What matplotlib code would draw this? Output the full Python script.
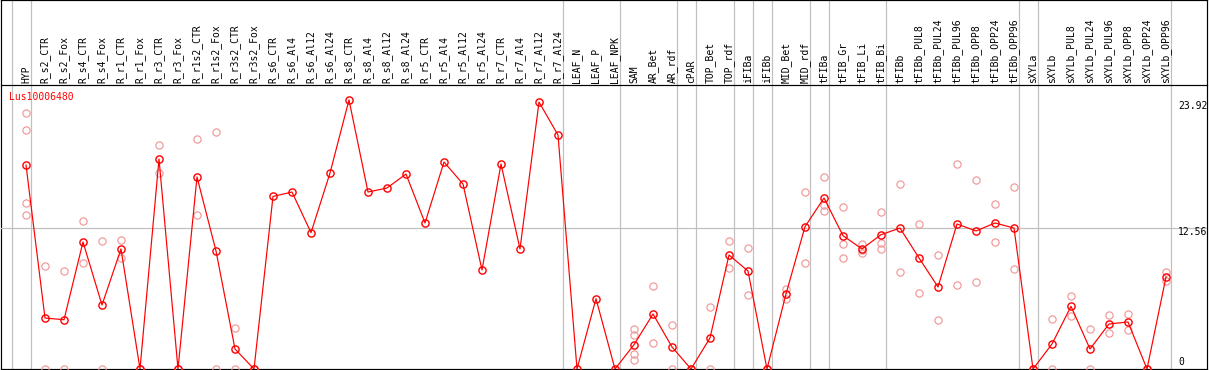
import matplotlib
matplotlib.use("Agg")
import matplotlib.pyplot as plt

gene = "Lus10006480"

labels = ["HYP", "R_s2_CTR", "R_s2_Fox", "R_s4_CTR", "R_s4_Fox", "R_r1_CTR", "R_r1_Fox",
          "R_r3_CTR", "R_r3_Fox", "R_r1s2_CTR", "R_r1s2_Fox", "R_r3s2_CTR", "R_r3s2_Fox",
          "R_s6_CTR", "R_s6_Al4", "R_s6_Al12", "R_s6_Al24", "R_s8_CTR", "R_s8_Al4", "R_s8_Al12",
          "R_s8_Al24", "R_r5_CTR", "R_r5_Al4", "R_r5_Al12", "R_r5_Al24", "R_r7_CTR", "R_r7_Al4",
          "R_r7_Al12", "R_r7_Al24", "LEAF_N", "LEAF_P", "LEAF_NPK", "SAM", "AR_Bet", "AR_rdf",
          "cPAR", "TOP_Bet", "TOP_rdf", "iFIBa", "iFIBb", "MID_Bet", "MID_rdf", "tFIBa",
          "tFIB_Gr", "tFIB_Li", "tFIB_Bi", "tFIBb", "tFIBb_PUL8", "tFIBb_PUL24", "tFIBb_PUL96",
          "tFIBb_OPP8", "tFIBb_OPP24", "tFIBb_OPP96", "sXYLa", "sXYLb", "sXYLb_PUL8",
          "sXYLb_PUL24", "sXYLb_PUL96", "sXYLb_OPP8", "sXYLb_OPP24", "sXYLb_OPP96"]

means = [18.13, 4.53, 4.38, 11.29, 5.69, 10.67, 0, 18.67, 0, 17.07, 10.49, 1.78, 0,
         15.34, 15.73, 12.12, 17.42, 23.92, 15.73, 16.09, 17.33, 12.98, 18.40, 16.44, 8.80,
         18.22, 10.67, 23.73, 20.80, 0, 6.25, 0,
         2.16, 4.89, 1.96, 0, 2.76, 10.13, 8.71, 0, 6.67, 12.65,
         15.20, 11.85, 10.67, 11.94, 12.53,
         9.87, 7.29, 12.89, 12.27, 12.98, 12.53,
         0, 2.22,
         5.57, 1.78, 4.00, 4.18, 0, 8.18]

replicates = [
    [22.76, 21.24, 14.76, 13.69], [9.18, 0], [8.71, 0], [13.16, 9.42], [11.38, 0],
    [11.47, 9.83], [0, 0], [19.91, 17.42], [0, 0], [20.44, 13.69], [21.07, 0],
    [3.64, 0], [0, 0],
    [], [], [], [], [], [], [], [], [], [], [], [], [], [], [], [],
    [], [], [],
    [3.56, 3.02, 1.36, 0.83], [7.38, 2.31], [3.91, 0], [0, 0], [5.51, 0],
    [11.38, 8.98], [10.76, 6.58], [0, 0], [7.14, 6.19], [15.73, 9.42],
    [17.07, 14.58, 14.04], [14.43, 11.11, 9.87], [11.11, 10.60, 10.31],
    [13.96, 11.20, 10.67], [16.44, 8.62],
    [12.89, 6.76], [10.13, 4.38], [18.22, 7.47], [16.80, 7.73], [14.67, 11.29], [16.18, 8.89],
    [0, 0], [4.44, 0],
    [6.49, 4.71], [3.56, 0], [4.80, 3.20], [4.89, 3.47], [0, 0], [8.62, 7.82]]

group_ends = [-1, 0, 28, 31, 34, 35, 37, 38, 39, 41, 42, 45, 52, 53, 60]
ytick_values = [0, 12.56, 23.92]

W, H = 1209, 370
DPI = 100
fig = plt.figure(figsize=(W / DPI, H / DPI), dpi=DPI)
fig.patch.set_facecolor("white")

STEP = 19.0
X0 = 26.0
LEFT_PX, RIGHT_PX = 1, 1207
xlim = ((LEFT_PX - X0) / STEP, (RIGHT_PX - X0) / STEP)
PX = 1 / DPI * 72  # one pixel in points

FONT = "DejaVu Sans Mono"
FS = 7

# background axes covering whole chart (pixel y coordinates)
bg = fig.add_axes([LEFT_PX / W, 1 / H, (RIGHT_PX - LEFT_PX) / W, 369 / H])
bg.set_xlim(*xlim)
bg.set_ylim(369, 0)
bg.set_xticks([])
bg.set_yticks([])
for s in bg.spines.values():
    s.set_linewidth(PX * 1.2)
    s.set_color("black")
for g in group_ends:
    bg.axvline(g + 4.5 / STEP, color="#c0c0c0", lw=PX * 1.2, zorder=0)
for i, lab in enumerate(labels):
    bg.text(i, 83, lab, rotation=90, ha="center", va="bottom",
            fontsize=FS, family=FONT, color="black")

# data axes
top_px = 85
ax = fig.add_axes([LEFT_PX / W, 1 / H, (RIGHT_PX - LEFT_PX) / W, (369 - top_px) / H])
ax.patch.set_alpha(0)
ax.set_xlim(*xlim)
scale = 11.25
ax.set_ylim(0, (369 - top_px) / scale)
ax.set_xticks([])
ax.set_yticks([])
for k, s in ax.spines.items():
    s.set_visible(k == "top")
ax.spines["top"].set_linewidth(PX * 1.2)
ax.spines["top"].set_color("black")

ax.axhline(ytick_values[1], color="#c0c0c0", lw=PX * 1.2, zorder=0)

rx, ry = [], []
for i, reps in enumerate(replicates):
    for v in reps:
        rx.append(i)
        ry.append(v)
ax.plot(rx, ry, linestyle="none", marker="o", markersize=5.2, mfc="none",
        mec="#f09999", mew=PX * 1.2, zorder=2)

ax.plot(range(len(means)), means, color="red", lw=PX * 1.2, marker="o",
        markersize=5.2, mfc="none", mec="red", mew=PX * 1.4, zorder=3)

ytr = ax.get_yaxis_transform()
xa = (1178 - LEFT_PX) / (RIGHT_PX - LEFT_PX)
ax.annotate(f"{ytick_values[2]:.2f}", xy=(xa, ytick_values[2]), xycoords=ytr,
            xytext=(0, -1), textcoords="offset pixels", va="top", ha="left",
            fontsize=FS, family=FONT, annotation_clip=False)
ax.annotate(f"{ytick_values[1]:.2f}", xy=(xa, ytick_values[1]), xycoords=ytr,
            xytext=(0, 1), textcoords="offset pixels", va="top", ha="left",
            fontsize=FS, family=FONT, annotation_clip=False)
ax.annotate(f"{ytick_values[0]}", xy=(xa, ytick_values[0]), xycoords=ytr,
            xytext=(0, 2), textcoords="offset pixels", va="bottom", ha="left",
            fontsize=FS, family=FONT, annotation_clip=False)

fig.text(9 / W, 1 - 97 / H, gene, color="red", fontsize=FS, family=FONT,
         ha="left", va="center")

fig.savefig("out.png", dpi=DPI, facecolor="white")
